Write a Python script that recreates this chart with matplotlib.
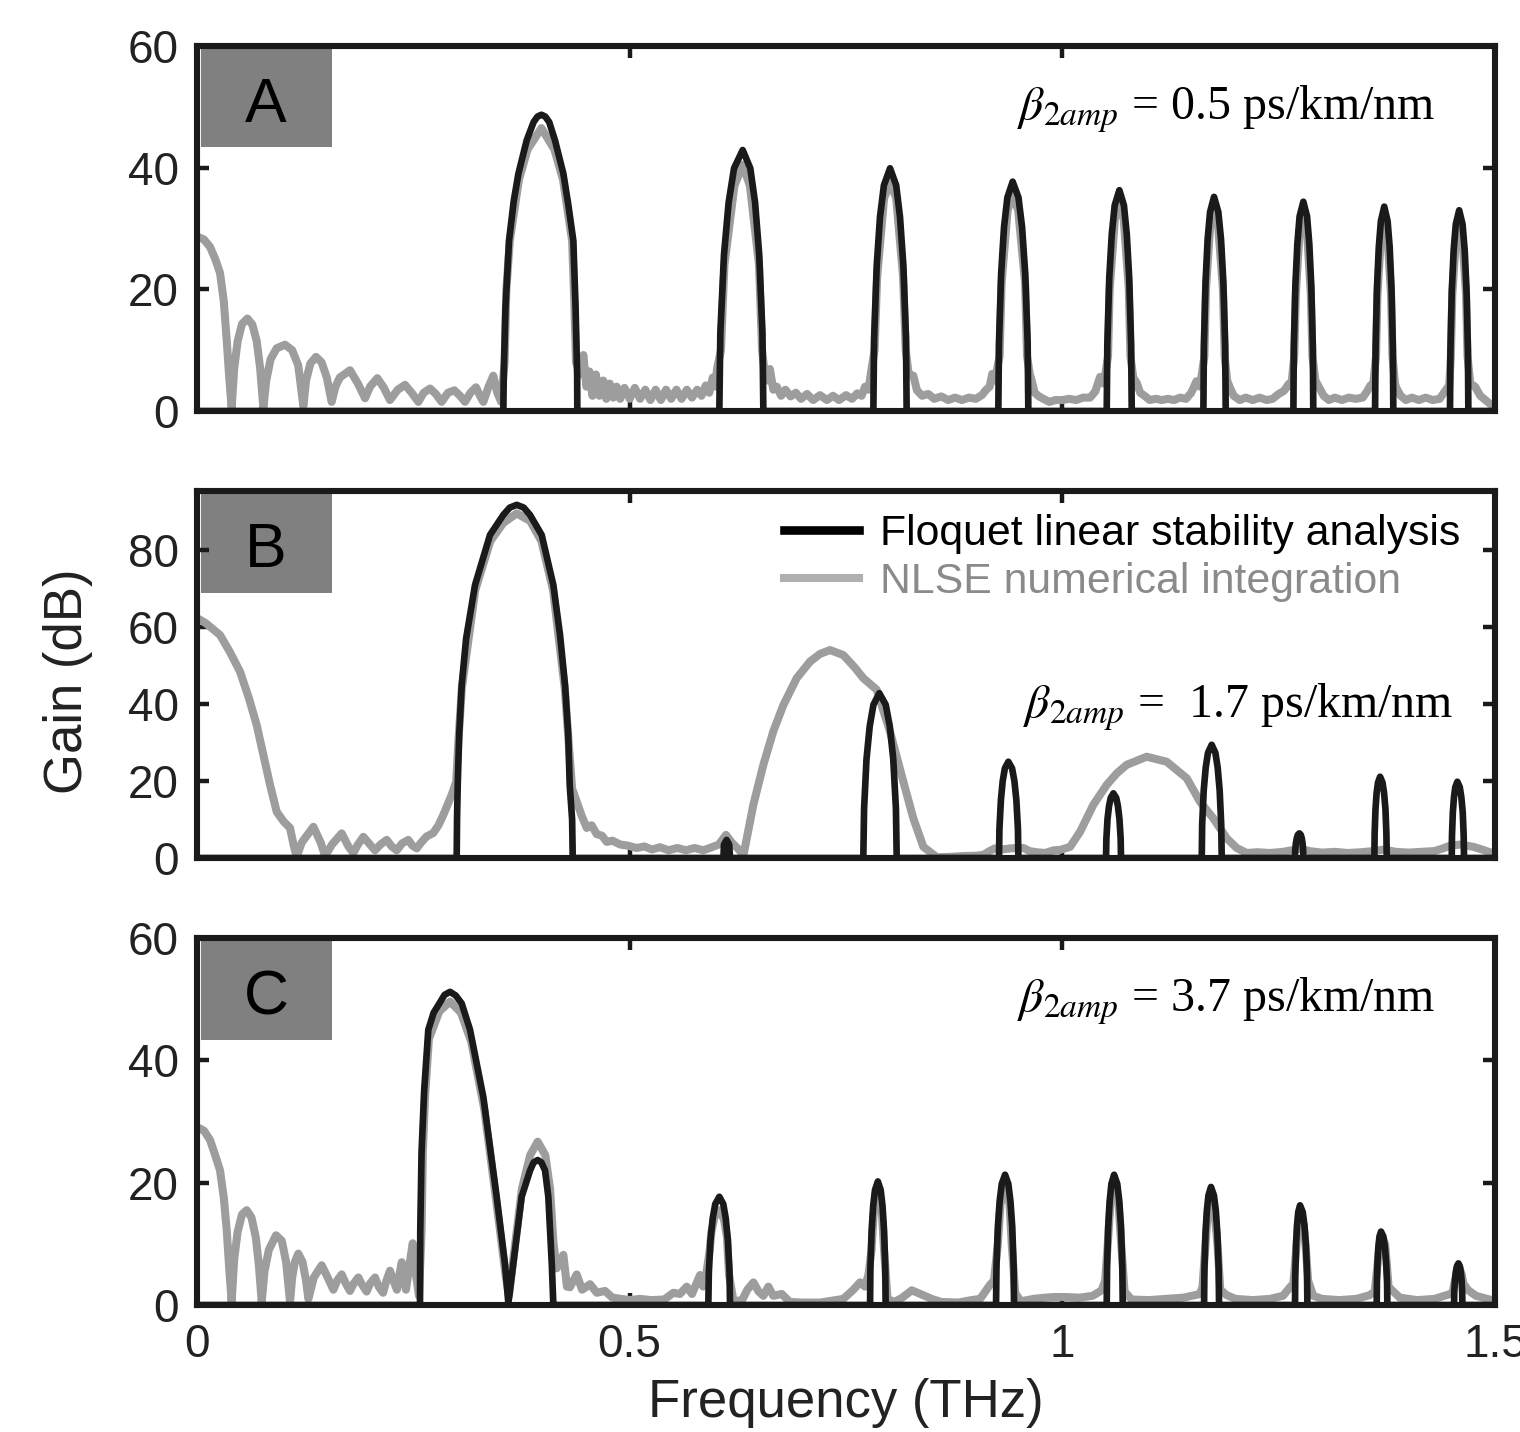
import matplotlib
matplotlib.use("Agg")
import matplotlib.pyplot as plt
from matplotlib.lines import Line2D
from matplotlib.patches import Rectangle

plt.rcParams['font.family'] = ['Liberation Sans', 'DejaVu Sans']
plt.rcParams['mathtext.fontset'] = 'stix'

# ---------------- Panel A: beta2amp = 0.5 ps/km/nm ----------------
floquet_a_f = [0, 0.354, 0.3545, 0.3565, 0.3606, 0.366, 0.3714, 0.381, 0.389, 0.3935, 0.398, 0.4025, 0.407, 0.4137, 0.4234, 0.429, 0.4349, 0.4375, 0.4393, 0.4395,
               0.6036, 0.6048, 0.609, 0.6144, 0.6206, 0.6306, 0.6394, 0.6449, 0.6497, 0.6534, 0.6545,
               0.7816, 0.7825, 0.7855, 0.7893, 0.7938, 0.8009, 0.808, 0.8124, 0.8163, 0.8193, 0.8201,
               0.926, 0.9268, 0.9293, 0.9326, 0.9365, 0.9426, 0.9493, 0.9535, 0.9571, 0.9599, 0.9607,
               1.0513, 1.052, 1.0542, 1.0571, 1.0605, 1.0659, 1.0712, 1.0745, 1.0773, 1.0795, 1.0802,
               1.163, 1.1636, 1.1655, 1.1679, 1.1707, 1.1753, 1.1803, 1.1834, 1.1861, 1.1882, 1.1888,
               1.267, 1.2675, 1.2693, 1.2716, 1.2742, 1.2785, 1.2828, 1.2854, 1.2877, 1.2895, 1.29,
               1.3614, 1.362, 1.3636, 1.3657, 1.3681, 1.372, 1.3759, 1.3783, 1.3804, 1.382, 1.3825,
               1.448, 1.4485, 1.4501, 1.4522, 1.4547, 1.4586, 1.4625, 1.465, 1.4671, 1.4687, 1.4692, 1.5]
floquet_a_g = [0, 0, 6, 17, 28, 34.5, 39, 44.5, 47.5, 48.4, 48.7, 48.4, 47.5, 44.5, 39, 34, 28, 17, 6, 0,
               0, 12.9, 25.7, 34.3, 39.9, 42.9, 39.9, 34.3, 25.7, 12.9, 0,
               0, 12, 23.9, 31.9, 37.1, 39.9, 37.1, 31.9, 23.9, 12, 0,
               0, 11.3, 22.6, 30.2, 35.1, 37.7, 35.1, 30.2, 22.6, 11.3, 0,
               0, 10.9, 21.8, 29, 33.8, 36.3, 33.8, 29, 21.8, 10.9, 0,
               0, 10.6, 21.1, 28.2, 32.7, 35.2, 32.7, 28.2, 21.1, 10.6, 0,
               0, 10.3, 20.6, 27.5, 32, 34.4, 32, 27.5, 20.6, 10.3, 0,
               0, 10.1, 20.2, 26.9, 31.2, 33.6, 31.2, 26.9, 20.2, 10.1, 0,
               0, 9.9, 19.8, 26.4, 30.7, 33, 30.7, 26.4, 19.8, 9.9, 0, 0]

nlse_a_f = [0, 0.008, 0.015, 0.021, 0.0266, 0.031, 0.0343, 0.037, 0.040, 0.043, 0.047, 0.052, 0.0582, 0.064, 0.069, 0.073, 0.0767,
            0.080, 0.085, 0.092, 0.1017, 0.11, 0.117, 0.1229, 0.126, 0.131, 0.1375, 0.144, 0.150, 0.1556,
            0.16, 0.165, 0.1768, 0.186, 0.1942, 0.2, 0.2084, 0.216, 0.223, 0.232, 0.2404, 0.248, 0.2558,
            0.262, 0.2693, 0.276, 0.2827, 0.29, 0.2974, 0.304, 0.3097, 0.316, 0.3224, 0.327, 0.3309, 0.337, 0.3424, 0.347, 0.3515,
            0.3555, 0.3575, 0.3615, 0.372, 0.382, 0.398, 0.413, 0.423, 0.4335, 0.436, 0.438,
            0.4425, 0.4465, 0.450, 0.4535, 0.457, 0.461, 0.465, 0.4695, 0.473, 0.477, 0.481, 0.485, 0.489, 0.494, 0.5, 0.506,
            0.512, 0.518, 0.524, 0.53, 0.536, 0.542, 0.548, 0.554, 0.56, 0.566, 0.572, 0.578, 0.583, 0.588, 0.592, 0.596, 0.5995, 0.601,
            0.6055, 0.6095, 0.621, 0.6306, 0.639, 0.6495, 0.653,
            0.6555, 0.659, 0.662, 0.666, 0.670, 0.675, 0.68, 0.686, 0.692, 0.698, 0.705, 0.712, 0.72, 0.728, 0.735, 0.742, 0.75,
            0.757, 0.763, 0.768, 0.772, 0.776, 0.7795,
            0.783, 0.786, 0.794, 0.8009, 0.808, 0.816, 0.819,
            0.8225, 0.8278, 0.832, 0.838, 0.845, 0.852, 0.86, 0.868, 0.876, 0.884, 0.892, 0.9, 0.907, 0.912, 0.916, 0.919, 0.922,
            0.9275, 0.9298, 0.9368, 0.9426, 0.949, 0.957, 0.9592,
            0.9625, 0.9646, 0.968, 0.972, 0.978, 0.985, 0.992, 1.0, 1.008, 1.016, 1.024, 1.032, 1.038, 1.0436, 1.048,
            1.0528, 1.0547, 1.0607, 1.0659, 1.071, 1.0768, 1.0787,
            1.082, 1.086, 1.09, 1.095, 1.101, 1.108, 1.115, 1.122, 1.129, 1.136, 1.143, 1.149, 1.155, 1.159,
            1.1642, 1.166, 1.1709, 1.1753, 1.18, 1.1856, 1.1876,
            1.1905, 1.1935, 1.198, 1.205, 1.212, 1.22, 1.228, 1.236, 1.243, 1.25, 1.256, 1.262, 1.2645,
            1.268, 1.2698, 1.2744, 1.2785, 1.2826, 1.2872, 1.289,
            1.2925, 1.297, 1.302, 1.308, 1.315, 1.323, 1.331, 1.339, 1.347, 1.352, 1.356, 1.359,
            1.3625, 1.3641, 1.3683, 1.372, 1.3757, 1.3799, 1.3815,
            1.3845, 1.386, 1.391, 1.397, 1.404, 1.412, 1.42, 1.428, 1.436, 1.441, 1.446, 1.447,
            1.449, 1.4506, 1.4549, 1.4586, 1.4623, 1.4666, 1.4682,
            1.4715, 1.477, 1.483, 1.489, 1.494, 1.5]
nlse_a_g = [28.7, 28.2, 27, 25, 22.7, 18, 11.7, 6, 0.5, 7, 11.5, 14.3, 15.2, 14.2, 11.5, 7, 0.5,
            5, 8.5, 10.3, 10.9, 10, 7.5, 0.8, 5, 7.8, 8.9, 8, 5.5, 1.5,
            4, 5.5, 6.7, 4.5, 2.1, 4, 5.4, 3.8, 1.8, 3.5, 4.3, 3, 1.5,
            3, 3.7, 2.8, 1.5, 3, 3.4, 2.5, 1.5, 3, 3.9, 2.5, 1.5, 4, 5.8, 3, 1.5,
            8, 20, 28, 38, 43, 46.5, 43, 38, 28, 18, 8,
            6, 9.2, 4, 6.5, 2.5, 6, 2.5, 5, 2, 4.5, 2.2, 4, 2, 3.8, 2, 3.8,
            2, 3.5, 1.8, 3.5, 1.8, 3.5, 2, 3.5, 2, 3.5, 2.2, 3.5, 2.5, 4.2, 3, 5.5, 4, 7,
            10, 24, 37, 40.5, 37, 24, 10,
            7, 5, 6.9, 3.5, 4, 2.5, 3.5, 2.4, 3, 2, 2.8, 1.8, 2.6, 1.8, 2.5, 1.8, 2.6,
            2, 2.9, 2.5, 4, 3.5, 6.9,
            10, 22, 35, 37.5, 35, 22, 10,
            6, 5.8, 3.4, 2.5, 2.8, 2, 2.4, 1.8, 2.2, 1.8, 2.2, 2, 2.6, 3.5, 4, 6.1, 5,
            9, 21, 33, 35.5, 33, 21, 9,
            6, 5, 3, 2.5, 2, 1.5, 1.8, 1.8, 2, 1.8, 2.2, 2.2, 3.2, 5.6, 4.5,
            9, 20, 31.5, 34, 31.5, 20, 9,
            5.5, 4.6, 3, 2.5, 1.8, 2, 1.8, 2, 1.8, 2.2, 2, 3, 4.9, 4,
            9, 20, 30.5, 33, 30.5, 20, 9,
            5, 3.9, 2.5, 1.8, 2.2, 1.8, 2.2, 1.8, 2, 2.8, 3.3, 4.5, 4,
            9, 19, 30, 32.2, 30, 19, 9,
            5, 3.8, 2.5, 1.8, 2.2, 1.8, 2.2, 2, 2.2, 3.2, 4.2, 4,
            9, 19, 29, 31.4, 29, 19, 9,
            4.5, 3.8, 2.5, 1.8, 2.2, 1.8, 2.2, 1.8, 2, 3, 4, 4,
            9, 19, 28.5, 30.8, 28.5, 19, 9,
            4.5, 4, 2.5, 1.8, 1.2, 0.7]

# ---------------- Panel B: beta2amp = 1.7 ps/km/nm ----------------
floquet_b_f = [0, 0.3001, 0.3005, 0.3013, 0.303, 0.3059, 0.311, 0.3213, 0.3386, 0.354, 0.3615, 0.3695, 0.3775, 0.3848, 0.3983, 0.4118, 0.4195, 0.4253, 0.429, 0.4307, 0.4335, 0.4342,
               0.6083, 0.609, 0.612, 0.615, 0.616,
               0.770, 0.7709, 0.7737, 0.7774, 0.7817, 0.7885, 0.7959, 0.8006, 0.8046, 0.8077, 0.8086,
               0.9268, 0.9273, 0.929, 0.9311, 0.9336, 0.9376, 0.9419, 0.9446, 0.9469, 0.9487, 0.9492,
               1.0505, 1.0509, 1.0522, 1.0539, 1.0559, 1.059, 1.0623, 1.0643, 1.066, 1.0674, 1.0678,
               1.1611, 1.1616, 1.1634, 1.1657, 1.1683, 1.1726, 1.1769, 1.1795, 1.1818, 1.1836, 1.1842,
               1.2689, 1.2691, 1.2699, 1.2709, 1.2721, 1.2739, 1.2756, 1.2767, 1.2776, 1.2783, 1.2785,
               1.3606, 1.3609, 1.3619, 1.3632, 1.3648, 1.3672, 1.37, 1.3718, 1.3734, 1.3745, 1.3749,
               1.45, 1.4503, 1.4513, 1.4526, 1.4541, 1.4565, 1.4593, 1.4611, 1.4627, 1.4638, 1.4642, 1.5]
floquet_b_g = [0, 0, 10, 19, 32, 44.9, 57, 70.9, 83.9, 89.1, 91, 91.7, 91, 89.1, 83.9, 70.9, 58, 44.9, 32, 19, 10, 0,
               0, 3.5, 4.7, 3.5, 0,
               0, 12.8, 25.7, 34.2, 39.8, 42.8, 39.8, 34.2, 25.7, 12.8, 0,
               0, 7.5, 15, 20, 23.3, 25, 23.3, 20, 15, 7.5, 0,
               0, 5, 10.1, 13.4, 15.6, 16.8, 15.6, 13.4, 10.1, 5, 0,
               0, 8.8, 17.6, 23.5, 27.3, 29.4, 27.3, 23.5, 17.6, 8.8, 0,
               0, 1.9, 3.8, 5.1, 6, 6.4, 6, 5.1, 3.8, 1.9, 0,
               0, 6.3, 12.7, 16.9, 19.6, 21.1, 19.6, 16.9, 12.7, 6.3, 0,
               0, 5.9, 11.9, 15.8, 18.4, 19.8, 18.4, 15.8, 11.9, 5.9, 0, 0]

nlse_b_f = [0, 0.01, 0.0266, 0.038, 0.0497, 0.06, 0.069, 0.077, 0.0844, 0.0921, 0.1, 0.1075, 0.112, 0.1152, 0.121, 0.1345, 0.143, 0.148,
            0.156, 0.1672, 0.175, 0.1806, 0.186, 0.1922, 0.2, 0.2057, 0.212, 0.2192, 0.225, 0.2308, 0.237, 0.2442, 0.249, 0.2539,
            0.259, 0.2654, 0.2731, 0.279, 0.2847, 0.2943, 0.2995,
            0.302, 0.306, 0.3215, 0.339, 0.354, 0.3695, 0.385, 0.398, 0.4115, 0.425, 0.4295, 0.4335, 0.4388, 0.4445, 0.4504, 0.456, 0.4619, 0.468,
            0.4735, 0.48, 0.489, 0.498, 0.508, 0.517, 0.526, 0.535, 0.545, 0.555, 0.565, 0.575, 0.585, 0.595, 0.603, 0.6113, 0.618,
            0.627, 0.6313, 0.6429, 0.6545, 0.666, 0.6776, 0.693, 0.7084, 0.72, 0.7315, 0.7469, 0.76, 0.77, 0.7855, 0.8009, 0.8163,
            0.8278, 0.8394, 0.855, 0.87, 0.885, 0.9, 0.9087, 0.915, 0.922, 0.93, 0.94, 0.95, 0.955, 0.962, 0.97, 0.98, 0.99, 0.9974,
            1.009, 1.0205, 1.0358, 1.0513, 1.063, 1.0744, 1.0975, 1.1206, 1.1438, 1.1591, 1.1745, 1.19, 1.2015, 1.2131, 1.225, 1.24,
            1.255, 1.265, 1.275, 1.285, 1.3, 1.315, 1.33, 1.345, 1.36, 1.372, 1.385, 1.4, 1.415, 1.43, 1.44, 1.448, 1.46, 1.475,
            1.485, 1.494, 1.5]
nlse_b_g = [62.3, 61, 57.9, 53.5, 48.4, 41.5, 34.5, 26.5, 19, 12, 9.5, 7.8, 3, 0.3, 4, 8.1, 4, 0.5,
            3.5, 6.4, 3, 1.3, 3.5, 5.5, 3.5, 2, 3.5, 4.7, 3, 2, 3.8, 4.7, 3.2, 2.5,
            4, 5.6, 6.5, 8.5, 11.2, 16.4, 19.8,
            30, 44, 69.5, 82.3, 87, 89.5, 87.5, 82.3, 69.5, 44, 30, 18, 14.6, 11, 7.8, 8.5, 6.2, 5.8,
            4.2, 4.5, 3.5, 3.2, 2.6, 3, 2.2, 2.8, 2, 2.6, 2, 2.6, 2, 2.8, 3.5, 6, 4,
            2, 0.5, 13.8, 24.2, 32.9, 39.7, 46.7, 51, 53, 54, 52.7, 49.5, 46.7, 43.7, 32.8, 19.8,
            10.3, 2.9, 0.2, 0.3, 0.5, 0.6, 0.8, 1.7, 2.5, 2.2, 2.5, 2.6, 2.6, 1.8, 1.5, 1.3, 2, 2.1,
            2.9, 6.8, 13.8, 19, 22, 24.2, 26.3, 25, 20.7, 14.6, 10.3, 5.1, 2.6, 1.3, 1.5, 1.3,
            1.6, 2, 2.5, 1.8, 1.4, 1.6, 1.3, 1.5, 1.8, 2.2, 1.6, 1.4, 1.6, 1.8, 2.5, 3.2, 3.5, 2.9,
            2.2, 1.5, 1.2]

# ---------------- Panel C: beta2amp = 3.7 ps/km/nm ----------------
floquet_c_f = [0, 0.2577, 0.258, 0.2595, 0.2625, 0.2673, 0.2735, 0.2801, 0.286, 0.2924, 0.299, 0.3059, 0.3155, 0.3309, 0.3463, 0.3559, 0.3598,
               0.3655, 0.3752, 0.3849, 0.389, 0.3937, 0.398, 0.4022, 0.406, 0.41, 0.4118,
               0.5909, 0.5915, 0.5934, 0.596, 0.5989, 0.6036, 0.6082, 0.611, 0.6135, 0.6154, 0.616,
               0.7778, 0.7782, 0.7796, 0.7814, 0.7835, 0.7868, 0.7901, 0.7922, 0.794, 0.7954, 0.7958,
               0.9234, 0.9239, 0.9255, 0.9276, 0.93, 0.9338, 0.9376, 0.94, 0.9421, 0.9437, 0.9442,
               1.0513, 1.0517, 1.053, 1.0547, 1.0567, 1.0598, 1.0635, 1.0658, 1.0678, 1.0693, 1.0698,
               1.1638, 1.1642, 1.1654, 1.167, 1.1688, 1.1718, 1.1752, 1.1774, 1.1792, 1.1807, 1.1811,
               1.2689, 1.2692, 1.2701, 1.2712, 1.2726, 1.2747, 1.2778, 1.2798, 1.2815, 1.2828, 1.2832,
               1.3633, 1.3635, 1.3643, 1.3653, 1.3665, 1.3683, 1.371, 1.3727, 1.3741, 1.3753, 1.3756,
               1.4527, 1.4529, 1.4537, 1.4547, 1.4559, 1.4577, 1.4594, 1.4605, 1.4614, 1.4621, 1.4623, 1.5]
floquet_c_g = [0, 0, 12, 25, 35, 45, 47.8, 49.3, 50.7, 51.2, 50.6, 49.3, 45, 34, 17.7, 6.7, 0.3,
               6.7, 17.7, 22, 23.3, 23.7, 23.3, 22, 17.7, 6.7, 0,
               0, 5.3, 10.6, 14.2, 16.5, 17.7, 16.5, 14.2, 10.6, 5.3, 0,
               0, 6.1, 12.1, 16.2, 18.8, 20.2, 18.8, 16.2, 12.1, 6.1, 0,
               0, 6.4, 12.8, 17, 19.8, 21.3, 19.8, 17, 12.8, 6.4, 0,
               0, 6.4, 12.8, 17, 19.8, 21.3, 19.8, 17, 12.8, 6.4, 0,
               0, 5.8, 11.6, 15.4, 17.9, 19.3, 17.9, 15.4, 11.6, 5.8, 0,
               0, 4.9, 9.8, 13, 15.2, 16.3, 15.2, 13, 9.8, 4.9, 0,
               0, 3.6, 7.2, 9.6, 11.2, 12, 11.2, 9.6, 7.2, 3.6, 0,
               0, 2, 4.1, 5.4, 6.3, 6.8, 6.3, 5.4, 4.1, 2, 0, 0]

nlse_c_f = [0, 0.008, 0.015, 0.021, 0.0266, 0.031, 0.0343, 0.037, 0.040, 0.043, 0.047, 0.052, 0.0574, 0.063, 0.068, 0.0715, 0.0748,
            0.078, 0.083, 0.0913, 0.098, 0.103, 0.1075, 0.110, 0.113, 0.1171, 0.122, 0.126, 0.1287,
            0.135, 0.1441, 0.151, 0.1576, 0.162, 0.1672, 0.172, 0.1768, 0.181, 0.1864, 0.19,
            0.196, 0.2, 0.2057, 0.21, 0.215, 0.219, 0.223, 0.227, 0.231, 0.234, 0.2366, 0.239, 0.2415, 0.245, 0.2493, 0.253, 0.2565,
            0.2595, 0.261, 0.2635, 0.268, 0.28, 0.2924, 0.305, 0.317, 0.332, 0.3463, 0.3565, 0.3605, 0.366, 0.3755, 0.385, 0.3937,
            0.4025, 0.408, 0.412, 0.4157, 0.4234, 0.4275, 0.431, 0.4388, 0.445, 0.4542, 0.462, 0.4715, 0.48, 0.49, 0.5, 0.512,
            0.525, 0.54, 0.5505, 0.558, 0.566, 0.572, 0.5813, 0.585, 0.5885,
            0.5925, 0.5945, 0.599, 0.6036, 0.609, 0.6125, 0.6148, 0.62, 0.63, 0.636, 0.643, 0.649, 0.6545, 0.6603, 0.666, 0.6757,
            0.685, 0.7, 0.72, 0.7469, 0.7585, 0.7662, 0.772, 0.776,
            0.7795, 0.782, 0.7868, 0.7915, 0.794, 0.798, 0.806, 0.815, 0.826, 0.836, 0.849, 0.86, 0.88, 0.895, 0.905, 0.911, 0.9164, 0.921,
            0.9255, 0.9285, 0.9338, 0.939, 0.9415, 0.9455, 0.952, 0.9665, 0.98, 0.99, 1.005, 1.02, 1.035, 1.0455, 1.0495,
            1.053, 1.0555, 1.0598, 1.065, 1.068, 1.072, 1.0744, 1.08, 1.1, 1.12, 1.14, 1.159, 1.162,
            1.1655, 1.168, 1.1718, 1.176, 1.1795, 1.1825, 1.19, 1.2, 1.22, 1.24, 1.255, 1.2631, 1.267,
            1.2702, 1.2722, 1.275, 1.279, 1.2818, 1.284, 1.29, 1.3, 1.32, 1.34, 1.355, 1.361,
            1.3645, 1.3665, 1.3688, 1.373, 1.3748, 1.377, 1.381, 1.39, 1.41, 1.43, 1.446, 1.451,
            1.4538, 1.4578, 1.4615, 1.4635, 1.4692, 1.478, 1.4963, 1.5]
nlse_c_g = [29.1, 28.5, 27, 24.5, 22, 17.5, 12.3, 6.5, 0.5, 7.5, 12, 14.8, 15.5, 14.3, 11, 6.5, 0.5,
            5.5, 9, 11.4, 10.5, 7, 0.5, 4.5, 7, 8.4, 7, 4, 1,
            4.5, 6.5, 4.5, 2.5, 4, 5, 3.5, 2.3, 3.5, 4.5, 3.5,
            2.2, 3.5, 4.5, 3, 2, 4, 5.6, 4, 2.5, 5, 7, 4.5, 2.5, 6, 10.1, 5, 1.5,
            12, 25, 34, 43.5, 48, 49.6, 47.8, 43, 32, 16.5, 5, 1.5, 8, 19, 24.5, 26.7,
            24.5, 19, 10, 6, 8.2, 3, 2.9, 5, 2.5, 3.4, 2, 2.3, 1.2, 1, 0.8, 1,
            0.8, 0.9, 2, 1.8, 3, 1.8, 4.9, 3, 5,
            9, 12, 15, 15.5, 14, 11, 5, 0.6, 0.8, 2.5, 3.7, 2.2, 1.5, 3, 1.5, 1.8,
            0.5, 0.4, 0.4, 1, 2.5, 3.7, 3, 5,
            9, 15, 18.5, 15, 9, 1, 0.5, 1.2, 2.4, 1.8, 1, 0.5, 0.4, 0.8, 1, 2.2, 3.3, 4,
            10, 16.5, 19.5, 16.5, 10, 2, 0.6, 1, 1.2, 1.3, 1.3, 1.2, 1.5, 2.4, 4,
            11, 16.5, 19.5, 16.5, 10, 2, 1.8, 0.9, 0.8, 1, 1.2, 1.8, 3,
            10, 15, 17.8, 15, 9.5, 2.5, 1.6, 1, 0.8, 1, 1.5, 2.9, 3.5,
            9, 13, 15.3, 13, 8.5, 4, 1.5, 1, 0.8, 1, 1.6, 2.2,
            7, 10, 11.3, 10, 7, 3, 2.4, 1.2, 0.8, 1, 1.7, 2,
            4, 6.5, 5, 3.5, 2.4, 1.5, 0.8, 0.5]

panel_letters = ['A', 'B', 'C']
beta_labels = [r'$\beta_{\mathit{2amp}}$ = 0.5 ps/km/nm',
               r'$\beta_{\mathit{2amp}}$ =  1.7 ps/km/nm',
               r'$\beta_{\mathit{2amp}}$ = 3.7 ps/km/nm']
y_limits = [60, 95.3, 60]
y_ticks = [[0, 20, 40, 60], [0, 20, 40, 60, 80], [0, 20, 40, 60]]
x_ticks = [0, 0.5, 1, 1.5]
x_ticklabels = ['0', '0.5', '1', '1.5']
legend_labels = ['Floquet linear stability analysis', 'NLSE numerical integration']

floquet_series = [(floquet_a_f, floquet_a_g), (floquet_b_f, floquet_b_g), (floquet_c_f, floquet_c_g)]
nlse_series = [(nlse_a_f, nlse_a_g), (nlse_b_f, nlse_b_g), (nlse_c_f, nlse_c_g)]

BLACK = '#1a1a1a'
GREY = '#9d9d9d'

W, H = 1520, 1432
fig = plt.figure(figsize=(W / 100, H / 100), dpi=100)

# axes boxes in pixels: left, top, right, bottom
boxes = [(197, 46, 1495, 411), (197, 491, 1495, 858), (197, 938, 1495, 1305)]
beta_pos = [(0.9538, 0.797), (0.9676, 0.381), (0.9538, 0.799)]

axes = []
for i, (l, t, r, b) in enumerate(boxes):
    ax = fig.add_axes([l / W, 1 - b / H, (r - l) / W, (b - t) / H])
    axes.append(ax)
    gf, gg = nlse_series[i]
    bf, bg = floquet_series[i]
    ax.plot(gf, gg, color=GREY, lw=5.8, solid_joinstyle='round', zorder=2)
    ax.plot(bf, bg, color=BLACK, lw=4.8, solid_joinstyle='round', zorder=3)
    ax.set_xlim(0, 1.5)
    ax.set_ylim(0, y_limits[i])
    ax.set_yticks(y_ticks[i])
    ax.set_xticks(x_ticks)
    ax.tick_params(direction='in', length=8.5, width=3.2, labelsize=33, pad=13,
                   top=True, right=True, colors=BLACK, labelcolor='#222222')
    if i < 2:
        ax.set_xticklabels([])
    else:
        ax.set_xticklabels(x_ticklabels)
        ax.set_xlabel('Frequency (THz)', fontsize=38, labelpad=8, color='#222222')
    for s in ax.spines.values():
        s.set_linewidth(4.4)
        s.set_color(BLACK)
    ax.add_patch(Rectangle((0.003, 0.722), 0.101, 0.278, transform=ax.transAxes,
                           facecolor='#808080', edgecolor='none', zorder=1))
    ax.text(0.0532, 0.792, panel_letters[i], transform=ax.transAxes, fontsize=45,
            ha='center', va='baseline', color='black', zorder=4)
    ax.text(beta_pos[i][0], beta_pos[i][1], beta_labels[i], transform=ax.transAxes,
            fontsize=34.5, family='Liberation Serif', ha='right', va='baseline', color='black')

handles = [Line2D([], [], color='black', lw=6.2), Line2D([], [], color='#b0b0b0', lw=5.8)]
leg = axes[1].legend(handles, legend_labels, loc='upper left', frameon=False,
                     bbox_to_anchor=(784 / W, 1 - 514 / H), bbox_transform=fig.transFigure,
                     fontsize=30.8, handlelength=1.75, handletextpad=0.5, labelspacing=0.18,
                     borderpad=0, borderaxespad=0)
for txt, c in zip(leg.get_texts(), ['black', '#8a8a8a']):
    txt.set_color(c)

fig.text(68 / W, 1 - 681 / H, 'Gain (dB)', rotation=90, fontsize=38,
         ha='center', va='center', color='#222222')

fig.savefig('out.png', dpi=100)
